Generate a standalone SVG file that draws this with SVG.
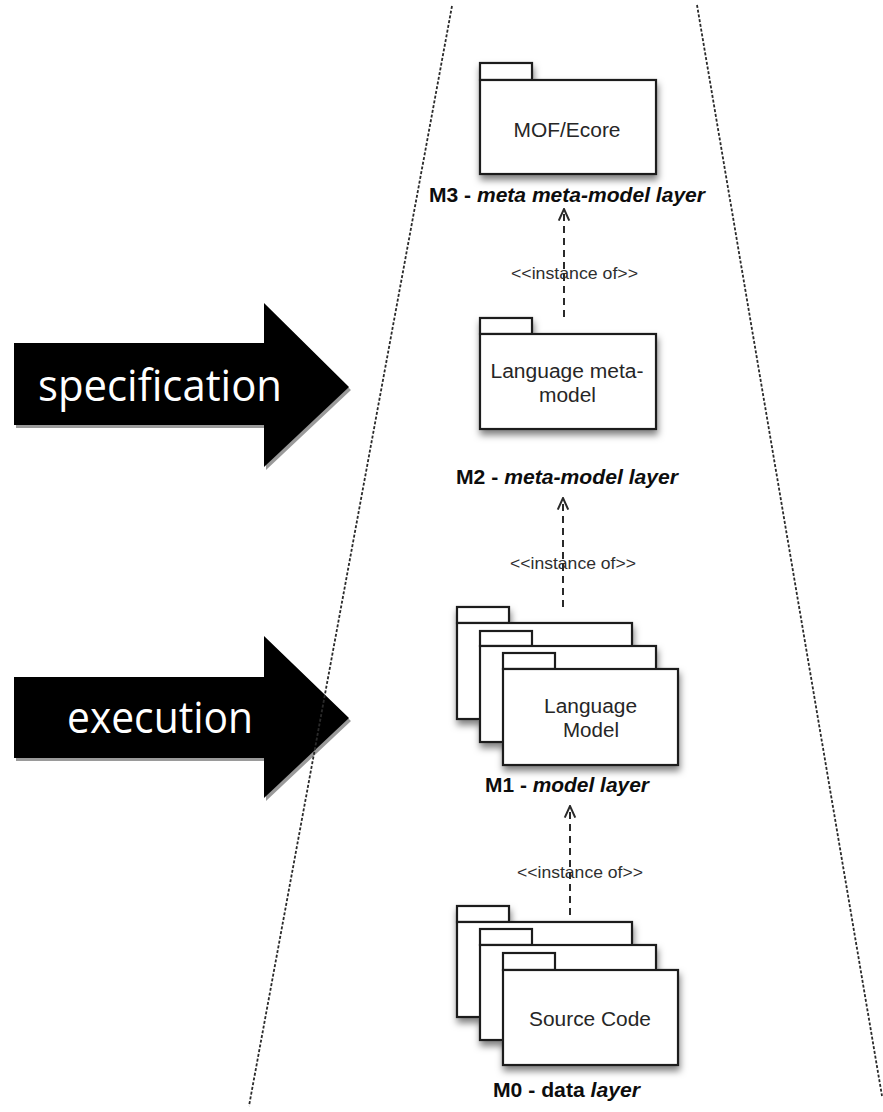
<svg xmlns="http://www.w3.org/2000/svg" width="883" height="1112" viewBox="0 0 883 1112">
  <style>
    .pkg { fill: #ffffff; stroke: #1e1e1e; stroke-width: 2.2; }
    .boxtext { font-family: "Liberation Sans", Arial, sans-serif; font-size: 20px; fill: #262626; text-anchor: middle; }
    .layer { font-family: "Liberation Sans", Arial, sans-serif; font-size: 20px; font-weight: bold; fill: #0d0d0d; text-anchor: middle; }
    .it { font-style: italic; }
    .stereo { font-family: "Liberation Sans", Arial, sans-serif; font-size: 16.5px; fill: #2e2e2e; text-anchor: middle; }
    .conn { fill: none; stroke: #2a2a2a; stroke-width: 2; stroke-dasharray: 7 5; }
    .bound { fill: none; stroke: #2a2a2a; stroke-width: 1.8; stroke-dasharray: 3 1.8; }
    .bigarrow { fill: #000000; }
    .bigshadow { fill: #9a9a9a; }
    .arrowtext { font-family: "Open Sans", "Noto Sans", sans-serif; font-size: 44px; fill: #ffffff; text-anchor: middle; }
  </style>
  <defs>
    <filter id="shadow" x="-20%" y="-20%" width="150%" height="160%">
      <feDropShadow dx="1" dy="5" stdDeviation="3.5" flood-color="#000000" flood-opacity="0.5"/>
    </filter>
    <marker id="open" markerUnits="userSpaceOnUse" markerWidth="14" markerHeight="14" viewBox="0 0 12 12" refX="11" refY="6" orient="auto">
      <path d="M1,1.5 L11,6 L1,10.5" fill="none" stroke="#2a2a2a" stroke-width="1.7"/>
    </marker>
  </defs>
  <rect x="0" y="0" width="883" height="1112" fill="#ffffff"/>

  <!-- big arrows -->
  <g id="arrow-specification">
    <polygon class="bigshadow" points="16,346 266,346 266,306 351,390 266,470 266,428 16,428"/>
    <polygon class="bigarrow" points="14,343 264,343 264,303 349,387 264,467 264,425 14,425"/>
    <text class="arrowtext" x="160" y="401" textLength="244" lengthAdjust="spacingAndGlyphs">specification</text>
  </g>
  <g id="arrow-execution">
    <polygon class="bigshadow" points="16,680 266,680 266,639 351,721 266,801 266,761 16,761"/>
    <polygon class="bigarrow" points="14,677 264,677 264,636 349,718 264,798 264,758 14,758"/>
    <text class="arrowtext" x="160" y="733" textLength="186" lengthAdjust="spacingAndGlyphs">execution</text>
  </g>

  <!-- boundary lines -->
  <g id="boundaries">
    <line class="bound" x1="452" y1="6" x2="249" y2="1106"/>
    <line class="bound" x1="697" y1="5" x2="882" y2="1096"/>
  </g>

  <!-- M3 -->
  <g id="m3">
    <g filter="url(#shadow)">
      <rect class="pkg" x="480" y="63" width="52" height="17"/>
      <rect class="pkg" x="480" y="80" width="176" height="94"/>
    </g>
    <text class="boxtext" x="567" y="137" textLength="107" lengthAdjust="spacingAndGlyphs">MOF/Ecore</text>
    <text class="layer" x="567" y="202" textLength="276" lengthAdjust="spacingAndGlyphs">M3 - <tspan class="it">meta meta-model layer</tspan></text>
  </g>

  <!-- M2 -->
  <g id="m2">
    <g filter="url(#shadow)">
      <rect class="pkg" x="480" y="318" width="52" height="16"/>
      <rect class="pkg" x="480" y="334" width="176" height="95"/>
    </g>
    <text class="boxtext" x="567" y="378" textLength="153" lengthAdjust="spacingAndGlyphs">Language meta-</text>
    <text class="boxtext" x="567.5" y="402" textLength="57" lengthAdjust="spacingAndGlyphs">model</text>
    <text class="layer" x="567" y="484" textLength="222" lengthAdjust="spacingAndGlyphs">M2 - <tspan class="it">meta-model layer</tspan></text>
  </g>

  <!-- M1 -->
  <g id="m1">
    <g filter="url(#shadow)">
      <rect class="pkg" x="457" y="607" width="52" height="16"/>
      <rect class="pkg" x="457" y="623" width="175" height="96"/>
      <rect class="pkg" x="480" y="631" width="52" height="15"/>
      <rect class="pkg" x="480" y="646" width="176" height="96"/>
      <rect class="pkg" x="503" y="653" width="52" height="16"/>
      <rect class="pkg" x="503" y="669" width="175" height="96"/>
    </g>
    <text class="boxtext" x="590.5" y="713" textLength="93" lengthAdjust="spacingAndGlyphs">Language</text>
    <text class="boxtext" x="591" y="737" textLength="56" lengthAdjust="spacingAndGlyphs">Model</text>
    <text class="layer" x="567" y="792" textLength="164" lengthAdjust="spacingAndGlyphs">M1 - <tspan class="it">model layer</tspan></text>
  </g>

  <!-- M0 -->
  <g id="m0">
    <g filter="url(#shadow)">
      <rect class="pkg" x="457" y="906" width="52" height="16"/>
      <rect class="pkg" x="457" y="922" width="175" height="95"/>
      <rect class="pkg" x="480" y="929" width="52" height="16"/>
      <rect class="pkg" x="480" y="945" width="176" height="95"/>
      <rect class="pkg" x="503" y="953" width="52" height="17"/>
      <rect class="pkg" x="503" y="970" width="175" height="95"/>
    </g>
    <text class="boxtext" x="590" y="1026" textLength="122" lengthAdjust="spacingAndGlyphs">Source Code</text>
    <text class="layer" x="566.5" y="1097" textLength="147" lengthAdjust="spacingAndGlyphs">M0 - data <tspan class="it">layer</tspan></text>
  </g>

  <!-- connectors -->
  <g id="connectors">
    <line class="conn" x1="564" y1="317" x2="564" y2="209" marker-end="url(#open)"/>
    <text class="stereo" x="574.5" y="279" textLength="127" lengthAdjust="spacingAndGlyphs">&lt;&lt;instance of&gt;&gt;</text>
    <line class="conn" x1="563" y1="607" x2="563" y2="498" marker-end="url(#open)"/>
    <text class="stereo" x="573" y="569" textLength="126" lengthAdjust="spacingAndGlyphs">&lt;&lt;instance of&gt;&gt;</text>
    <line class="conn" x1="570" y1="915" x2="570" y2="806" marker-end="url(#open)"/>
    <text class="stereo" x="580" y="878" textLength="126" lengthAdjust="spacingAndGlyphs">&lt;&lt;instance of&gt;&gt;</text>
  </g>
</svg>
